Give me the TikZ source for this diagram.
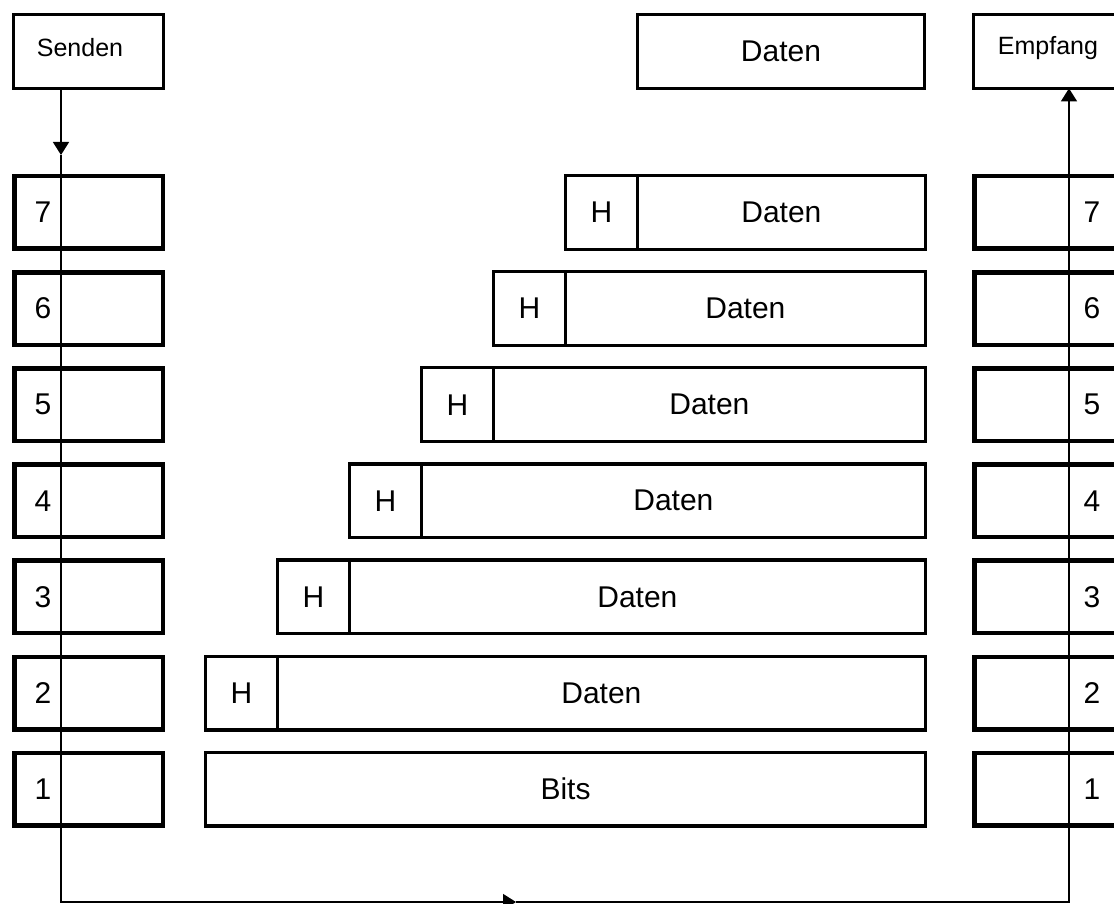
\documentclass[tikz,border=0pt]{standalone}
\usepackage{fontspec}
\setmainfont{Liberation Sans}
\usetikzlibrary{arrows.meta}
\begin{document}
\begin{tikzpicture}[x=1pt,y=1pt,
  every node/.style={outer sep=0pt, inner sep=0pt},
  layerbox/.style={draw, line width=4.5pt, minimum width=148.5pt, minimum height=72.5pt},
  thinbox/.style={draw, line width=3.2pt, minimum height=73.8pt, font=\fontsize{30}{36}\selectfont},
  topbox/.style={draw, line width=3.2pt, minimum height=73.8pt},
  num/.style={font=\fontsize{30}{36}\selectfont},
  small/.style={font=\fontsize{25}{30}\selectfont},
  conn/.style={line width=1.5pt},
  tip/.style={-{Triangle[width=16pt,length=13pt]}}]
\useasboundingbox (0,0) rectangle (1114,-904);

% top boxes
\node[topbox, minimum width=149.8pt] (senden) at (88.5,-51.5) {};
\node[small] at (80,-48) {Senden};
\node[topbox, minimum width=149.8pt] (empfang) at (1048,-51.5) {};
\node[small] at (1048,-48) {Empfang};
\node[topbox, minimum width=286.8pt, font=\fontsize{30}{36}\selectfont] (daten) at (781,-51.5) {Daten};

% layer boxes and data units
\foreach \i in {1,...,7}{
  \pgfmathsetmacro{\yc}{-(174+(7-\i)*96.1+38.5)}
  \node[layerbox] (L\i) at (88.5,\yc) {};
  \node[num] at (43,\yc) {\i};
  \node[layerbox] (R\i) at (1048.5,\yc) {};
  \node[num] at (1092,\yc) {\i};
}
\foreach \i in {2,...,7}{
  \pgfmathsetmacro{\yc}{-(174+(7-\i)*96.1+38.5)}
  \pgfmathsetmacro{\xl}{564-(7-\i)*72}
  \pgfmathsetmacro{\xc}{\xl+37.5}
  \pgfmathsetmacro{\dw}{852-\xl}
  \node[thinbox, minimum width=71.8pt] (H\i) at (\xc,\yc) {H};
  \node[thinbox, minimum width=\dw pt, anchor=west] (D\i) at (H\i.east) {Daten};
}
\pgfmathsetmacro{\ybits}{-(174+6*96.1+38.5)}
\node[thinbox, minimum width=719.8pt] (bits) at (565.5,\ybits) {Bits};

% connector
\coordinate (a1) at (61,-155);
\coordinate (bl) at (61,-902);
\coordinate (mid) at (516,-902);
\coordinate (br) at (1069,-902);
\draw[conn, tip] (senden.south -| a1) -- (a1);
\draw[conn, tip] (a1) -- (bl) -- (mid);
\draw[conn, tip] (mid) -- (br) -- (empfang.south -| br);
\end{tikzpicture}
\end{document}
